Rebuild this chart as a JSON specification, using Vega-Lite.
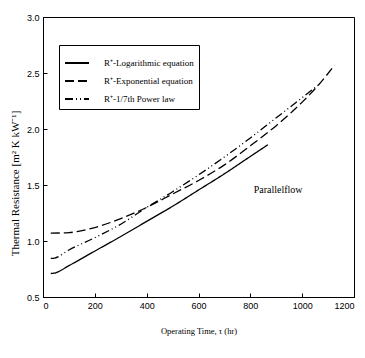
{
  "$schema": "https://vega.github.io/schema/vega-lite/v6.json",
  "autosize": "none",
  "width": 311,
  "height": 280,
  "padding": {"left": 43, "top": 17, "right": 11, "bottom": 61},
  "background": "white",
  "config": {
    "view": {"stroke": "black", "strokeWidth": 1},
    "axis": {
      "domainColor": "black",
      "tickColor": "black",
      "labelColor": "black",
      "titleColor": "black",
      "labelFont": "Liberation Sans",
      "labelFontSize": 9,
      "titleFont": "Liberation Serif",
      "titleFontWeight": "normal",
      "grid": false,
      "tickSize": -4
    },
    "legend": {
      "labelFont": "Liberation Serif",
      "labelFontSize": 9,
      "labelColor": "black"
    }
  },
  "datasets": {
    "curves": [
      {"model": "R⁺-Logarithmic equation", "t": 30, "r": 0.71},
      {"model": "R⁺-Logarithmic equation", "t": 45, "r": 0.714},
      {"model": "R⁺-Logarithmic equation", "t": 100, "r": 0.78},
      {"model": "R⁺-Logarithmic equation", "t": 200, "r": 0.91},
      {"model": "R⁺-Logarithmic equation", "t": 300, "r": 1.04},
      {"model": "R⁺-Logarithmic equation", "t": 400, "r": 1.175},
      {"model": "R⁺-Logarithmic equation", "t": 500, "r": 1.31},
      {"model": "R⁺-Logarithmic equation", "t": 600, "r": 1.455},
      {"model": "R⁺-Logarithmic equation", "t": 700, "r": 1.6},
      {"model": "R⁺-Logarithmic equation", "t": 800, "r": 1.755},
      {"model": "R⁺-Logarithmic equation", "t": 868, "r": 1.86},
      {"model": "R⁺-Exponential equation", "t": 30, "r": 1.07},
      {"model": "R⁺-Exponential equation", "t": 100, "r": 1.075},
      {"model": "R⁺-Exponential equation", "t": 200, "r": 1.12},
      {"model": "R⁺-Exponential equation", "t": 300, "r": 1.2},
      {"model": "R⁺-Exponential equation", "t": 400, "r": 1.3},
      {"model": "R⁺-Exponential equation", "t": 500, "r": 1.42},
      {"model": "R⁺-Exponential equation", "t": 600, "r": 1.54},
      {"model": "R⁺-Exponential equation", "t": 700, "r": 1.68},
      {"model": "R⁺-Exponential equation", "t": 800, "r": 1.85},
      {"model": "R⁺-Exponential equation", "t": 900, "r": 2.03},
      {"model": "R⁺-Exponential equation", "t": 1000, "r": 2.24},
      {"model": "R⁺-Exponential equation", "t": 1060, "r": 2.385},
      {"model": "R⁺-Exponential equation", "t": 1125, "r": 2.57},
      {"model": "R⁺-1/7th Power law", "t": 30, "r": 0.845},
      {"model": "R⁺-1/7th Power law", "t": 45, "r": 0.848},
      {"model": "R⁺-1/7th Power law", "t": 100, "r": 0.92},
      {"model": "R⁺-1/7th Power law", "t": 200, "r": 1.03},
      {"model": "R⁺-1/7th Power law", "t": 300, "r": 1.15},
      {"model": "R⁺-1/7th Power law", "t": 400, "r": 1.3},
      {"model": "R⁺-1/7th Power law", "t": 500, "r": 1.44},
      {"model": "R⁺-1/7th Power law", "t": 600, "r": 1.59},
      {"model": "R⁺-1/7th Power law", "t": 700, "r": 1.75},
      {"model": "R⁺-1/7th Power law", "t": 800, "r": 1.92},
      {"model": "R⁺-1/7th Power law", "t": 900, "r": 2.1},
      {"model": "R⁺-1/7th Power law", "t": 1000, "r": 2.28},
      {"model": "R⁺-1/7th Power law", "t": 1060, "r": 2.39}
    ],
    "notes": [
      {"t": 907, "r": 1.455, "label": "Parallelflow"}
    ]
  },
  "layer": [
    {
      "data": {"name": "curves"},
      "mark": {"type": "line", "color": "black", "strokeWidth": 1.3, "interpolate": "monotone"},
      "encoding": {
        "x": {
          "field": "t", "type": "quantitative",
          "scale": {"domain": [0, 1200], "nice": false},
          "axis": {"values": [0, 200, 400, 600, 800, 1000, 1200], "format": "d", "title": "Operating Time, τ (hr)", "titleFontSize": 8.5, "labelPadding": 8, "titlePadding": 16}
        },
        "y": {
          "field": "r", "type": "quantitative",
          "scale": {"domain": [0.5, 3.0], "nice": false, "zero": false},
          "axis": {"values": [0.5, 1.0, 1.5, 2.0, 2.5, 3.0], "format": ".1f", "title": "Thermal Resistance [m² K kW⁻¹]", "titleFontSize": 11, "labelPadding": 8, "titlePadding": 6, "titleY": 166}
        },
        "strokeDash": {
          "field": "model", "type": "nominal",
          "scale": {
            "domain": ["R⁺-Logarithmic equation", "R⁺-Exponential equation", "R⁺-1/7th Power law"],
            "range": [[1, 0], [9, 4], [8, 3, 1, 3, 1, 3]]
          },
          "legend": {
            "title": null,
            "orient": "none",
            "legendX": 16,
            "legendY": 28,
            "strokeColor": "black",
            "padding": 5,
            "rowPadding": -5,
            "symbolType": "stroke",
            "symbolSize": 576,
            "symbolStrokeWidth": 2,
            "symbolStrokeColor": "black",
            "labelOffset": 14
          }
        }
      }
    },
    {
      "data": {"name": "notes"},
      "mark": {"type": "text", "font": "Liberation Serif", "fontSize": 10, "color": "black"},
      "encoding": {
        "x": {"field": "t", "type": "quantitative"},
        "y": {"field": "r", "type": "quantitative"},
        "text": {"field": "label"}
      }
    }
  ]
}
